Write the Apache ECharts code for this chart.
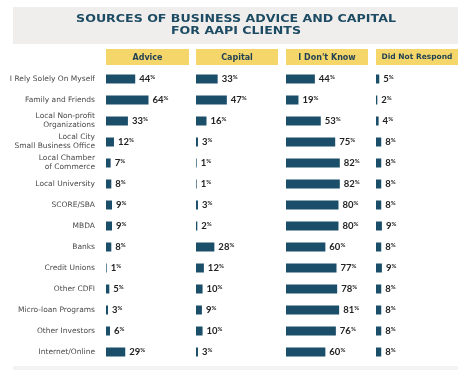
<!DOCTYPE html>
<html><head><meta charset="utf-8">
<script src="https://cdn.jsdelivr.net/npm/echarts@6/dist/echarts.min.js"></script>
<style>html,body{margin:0;padding:0;background:#fff}#c{width:471px;height:379px}</style>
</head><body><div id="c"></div>
<script>
const categories = ["I Rely Solely On Myself","Family and Friends","Local Non-profit\nOrganizations","Local City\nSmall Business Office","Local Chamber\nof Commerce","Local University","SCORE/SBA","MBDA","Banks","Credit Unions","Other CDFI","Micro-loan Programs","Other Investors","Internet/Online"];
const headers = ["Advice","Capital","I Don't Know","Did Not Respond"];
const advice = [44,64,33,12,7,8,9,9,8,1,5,3,6,29];
const capital = [33,47,16,3,1,1,3,2,28,12,10,9,10,3];
const dontKnow = [44,19,53,75,82,82,80,80,60,77,78,81,76,60];
const noResponse = [5,2,4,8,8,8,8,9,8,9,8,8,8,8];
const titleText = "SOURCES OF BUSINESS ADVICE AND CAPITAL\nFOR AAPI CLIENTS";

const seriesData = [advice, capital, dontKnow, noResponse];
const lefts = [106,196,286,376];
const widths = [83,82,82,82];
const TOP = 68.5, H = 294;
const barColor = '#1a4e69';

const grids = [], xAxes = [], yAxes = [], series = [], graphics = [];
graphics.push({type:'rect', shape:{x:13,y:7,width:445,height:37}, style:{fill:'#efeeed'}});
graphics.push({type:'text', x:236, y:25.5, scaleX:1.26, originX:0, originY:0, style:{text:titleText, fill:'#1d4b63', font:'bold 10px "DejaVu Sans"', align:'center', verticalAlign:'middle', lineHeight:12}});
graphics.push({type:'rect', shape:{x:13,y:366,width:445,height:4}, style:{fill:'#f3f3f3'}});
for (let i=0;i<4;i++){
  grids.push({left:lefts[i], top:TOP, width:widths[i], height:H});
  xAxes.push({type:'value', gridIndex:i, min:0, max:125, show:false});
  yAxes.push({type:'category', gridIndex:i, data:categories, inverse:true,
    axisLine:{show:false}, axisTick:{show:false}, splitLine:{show:false},
    axisLabel:{show:i===0, margin:11, color:'#4a4a4a', fontSize:7.5, fontFamily:'"DejaVu Sans"', lineHeight:9, align:'right'}});
  series.push({type:'bar', xAxisIndex:i, yAxisIndex:i, data:seriesData[i], barWidth:9,
    itemStyle:{color:barColor}, silent:true,
    label:{show:true, position:'right', distance:4,
      formatter:p=>'{n|'+p.value+'}{p|%}',
      rich:{n:{fontFamily:'Lato', fontWeight:'bold', fontSize:9.5, color:'#222'}, p:{fontFamily:'Lato', fontWeight:'bold', fontSize:6, color:'#222', verticalAlign:'top', padding:[0,0,3,0]}}}});
  graphics.push({type:'rect', shape:{x:lefts[i], y:49, width:widths[i], height:16}, style:{fill:'#f4d66b'}});
  graphics.push({type:'text', x:lefts[i]+widths[i]/2, y:57.5, style:{text:headers[i], fill:'#1f3f52', font:'bold '+(i===3?'7.5':'8')+'px "DejaVu Sans"', align:'center', verticalAlign:'middle'}});
}
const chart = echarts.init(document.getElementById('c'), null, {renderer:'canvas'});
chart.setOption({animation:false, grid:grids, xAxis:xAxes, yAxis:yAxes, series:series, graphic:graphics});
</script></body></html>
